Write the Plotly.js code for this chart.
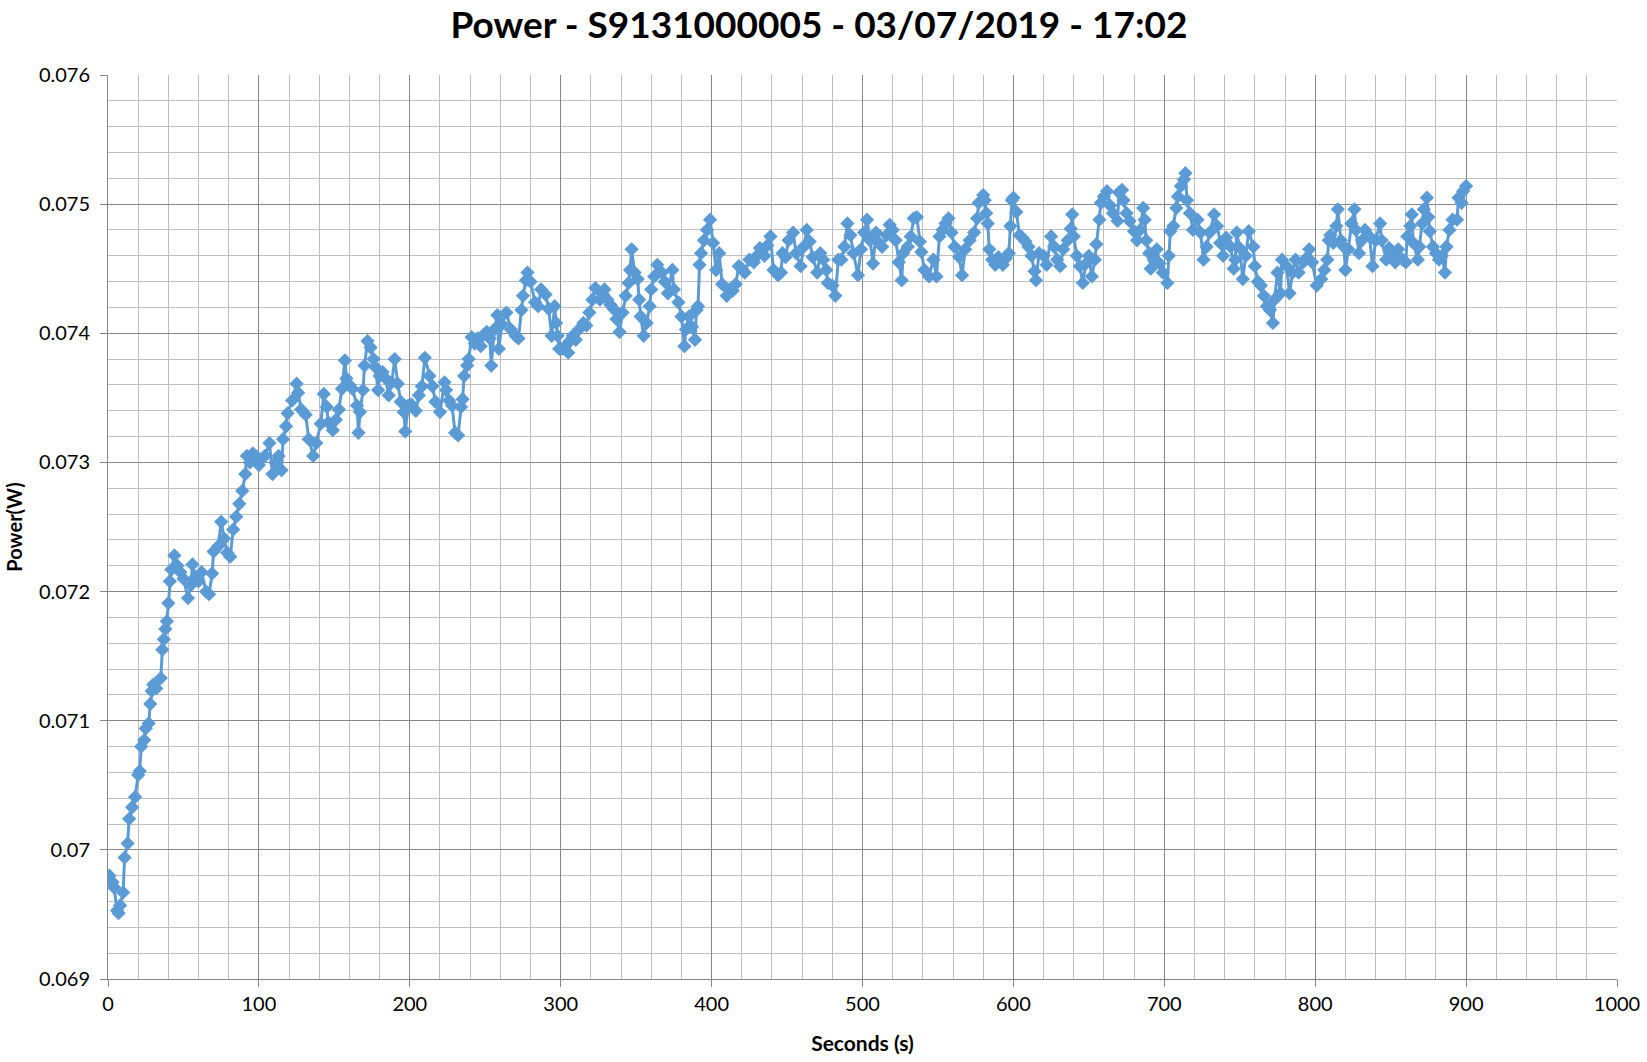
<!DOCTYPE html>
<html>
<head>
<meta charset="utf-8">
<script src="https://cdn.plot.ly/plotly-3.0.1.min.js"></script>
<style>html,body{margin:0;padding:0;background:#fff;}#chart{width:1647px;height:1062px;}</style>
</head>
<body>
<div id="chart"></div>
<script>
// [seconds, power (W)]
const run0to145 = [[1,0.06980],[3,0.06975],[4,0.06971],[6,0.06953],[7,0.06951],[8,0.06957],[10,0.06967],[11,0.06994],[13,0.07005],[14,0.07024],[16,0.07033],[18,0.07041],[20,0.07058],[21,0.07061],[22,0.07080],[24,0.07085],[25,0.07094],[27,0.07098],[28,0.07113],[29,0.07123],[30,0.07128],[32,0.07125],[35,0.07133],[36,0.07155],[37,0.07163],[38,0.07171],[39,0.07177],[40,0.07191],[41,0.07208],[42,0.07217],[44,0.07228],[46,0.07220],[48,0.07215],[50,0.07210],[53,0.07195],[55,0.07205],[56,0.07221],[58,0.07211],[60,0.07208],[62,0.07215],[65,0.07200],[67,0.07198],[69,0.07214],[70,0.07231],[73,0.07235],[75,0.07254],[77,0.07241],[79,0.07230],[81,0.07227],[83,0.07248],[85,0.07258],[87,0.07268],[89,0.07278],[91,0.07291],[92,0.07305],[94,0.07300],[96,0.07307],[98,0.07305],[100,0.07298],[102,0.07303],[104,0.07305],[107,0.07315],[109,0.07291],[111,0.07300],[113,0.07305],[115,0.07294],[116,0.07318],[118,0.07328],[119,0.07338],[122,0.07348],[125,0.07361],[126,0.07354],[128,0.07341],[131,0.07337],[133,0.07318],[136,0.07305],[138,0.07315],[141,0.07330],[143,0.07353],[145,0.07343]];
const run146to299 = [[146,0.07331],[149,0.07325],[151,0.07333],[153,0.07341],[155,0.07357],[157,0.07379],[158,0.07365],[160,0.07360],[162,0.07357],[165,0.07344],[166,0.07323],[167,0.07339],[169,0.07356],[170,0.07375],[172,0.07394],[174,0.07389],[176,0.07380],[177,0.07374],[179,0.07356],[180,0.07367],[182,0.07370],[184,0.07365],[186,0.07352],[188,0.07362],[190,0.07380],[192,0.07361],[194,0.07347],[196,0.07339],[197,0.07324],[199,0.07344],[201,0.07345],[204,0.07340],[206,0.07352],[208,0.07359],[210,0.07381],[213,0.07367],[215,0.07359],[217,0.07347],[220,0.07339],[223,0.07362],[224,0.07356],[226,0.07348],[228,0.07344],[230,0.07323],[232,0.07321],[234,0.07343],[235,0.07349],[236,0.07367],[238,0.07375],[239,0.07380],[241,0.07397],[243,0.07392],[245,0.07396],[247,0.07390],[249,0.07399],[251,0.07401],[253,0.07396],[254,0.07375],[256,0.07403],[258,0.07414],[259,0.07388],[261,0.07407],[264,0.07416],[267,0.07403],[270,0.07398],[272,0.07396],[274,0.07418],[275,0.07429],[277,0.07441],[278,0.07447],[280,0.07440],[283,0.07424],[285,0.07421],[287,0.07434],[290,0.07430],[292,0.07419],[294,0.07398],[296,0.07421],[297,0.07408],[298,0.07398],[299,0.07388]];
const run300to444 = [[301,0.07388],[303,0.07390],[305,0.07385],[306,0.07394],[308,0.07398],[310,0.07395],[312,0.07403],[315,0.07408],[317,0.07406],[319,0.07416],[321,0.07426],[323,0.07435],[326,0.07426],[328,0.07430],[329,0.07434],[331,0.07426],[333,0.07422],[335,0.07419],[337,0.07411],[339,0.07401],[341,0.07416],[343,0.07429],[345,0.07439],[346,0.07449],[347,0.07465],[349,0.07447],[351,0.07442],[352,0.07426],[353,0.07413],[355,0.07398],[357,0.07408],[359,0.07421],[360,0.07434],[362,0.07444],[364,0.07453],[367,0.07447],[369,0.07440],[371,0.07431],[374,0.07449],[375,0.07434],[378,0.07424],[380,0.07413],[382,0.07390],[383,0.07403],[385,0.07413],[387,0.07405],[389,0.07395],[390,0.07418],[391,0.07421],[392,0.07453],[393,0.07462],[395,0.07472],[397,0.07480],[399,0.07488],[401,0.07470],[403,0.07449],[405,0.07462],[407,0.07438],[410,0.07429],[412,0.07434],[414,0.07433],[416,0.07438],[418,0.07452],[420,0.07450],[422,0.07447],[425,0.07457],[428,0.07455],[430,0.07460],[432,0.07466],[435,0.07460],[437,0.07468],[439,0.07475],[441,0.07449],[444,0.07445]];
const run446to599 = [[446,0.07447],[447,0.07462],[449,0.07459],[451,0.07472],[454,0.07478],[456,0.07462],[459,0.07452],[461,0.07467],[463,0.07480],[465,0.07471],[467,0.07459],[470,0.07447],[472,0.07462],[474,0.07457],[476,0.07449],[477,0.07439],[480,0.07437],[482,0.07429],[484,0.07457],[486,0.07457],[488,0.07467],[490,0.07485],[492,0.07476],[494,0.07462],[497,0.07445],[499,0.07465],[501,0.07478],[503,0.07488],[505,0.07472],[507,0.07454],[509,0.07478],[511,0.07470],[513,0.07467],[516,0.07476],[518,0.07484],[520,0.07480],[522,0.07472],[524,0.07455],[526,0.07441],[527,0.07462],[530,0.07467],[532,0.07475],[534,0.07489],[536,0.07490],[538,0.07471],[539,0.07463],[541,0.07449],[544,0.07444],[547,0.07457],[549,0.07444],[551,0.07475],[553,0.07480],[555,0.07485],[557,0.07489],[559,0.07478],[561,0.07467],[564,0.07459],[566,0.07445],[568,0.07465],[571,0.07472],[574,0.07478],[576,0.07489],[577,0.07501],[580,0.07507],[581,0.07503],[582,0.07493],[583,0.07485],[584,0.07465],[586,0.07457],[588,0.07453],[590,0.07459],[593,0.07453],[595,0.07458],[597,0.07462],[598,0.07483],[599,0.07503]];
const run600to744 = [[600,0.07505],[602,0.07494],[604,0.07476],[606,0.07474],[608,0.07471],[610,0.07467],[612,0.07460],[614,0.07448],[615,0.07441],[617,0.07462],[620,0.07460],[622,0.07453],[625,0.07475],[627,0.07467],[629,0.07457],[631,0.07452],[633,0.07465],[636,0.07472],[638,0.07481],[639,0.07492],[640,0.07475],[642,0.07460],[644,0.07452],[646,0.07439],[648,0.07454],[650,0.07460],[652,0.07444],[654,0.07457],[655,0.07469],[657,0.07488],[658,0.07501],[660,0.07506],[662,0.07510],[664,0.07499],[666,0.07493],[669,0.07487],[670,0.07509],[672,0.07511],[673,0.07503],[675,0.07493],[677,0.07487],[680,0.07479],[682,0.07472],[684,0.07480],[686,0.07497],[687,0.07488],[688,0.07472],[690,0.07462],[691,0.07450],[693,0.07457],[695,0.07465],[697,0.07454],[699,0.07447],[702,0.07439],[703,0.07460],[704,0.07479],[706,0.07483],[708,0.07497],[709,0.07506],[711,0.07514],[713,0.07519],[714,0.07524],[715,0.07503],[717,0.07493],[719,0.07480],[722,0.07488],[724,0.07478],[726,0.07457],[728,0.07467],[730,0.07478],[733,0.07492],[735,0.07483],[737,0.07470],[739,0.07460],[741,0.07474],[744,0.07467]];
const run746to900 = [[746,0.07450],[747,0.07457],[748,0.07478],[750,0.07466],[752,0.07442],[754,0.07460],[756,0.07479],[759,0.07467],[760,0.07452],[762,0.07440],[764,0.07437],[766,0.07429],[768,0.07421],[770,0.07418],[772,0.07408],[773,0.07426],[775,0.07447],[777,0.07431],[778,0.07457],[781,0.07452],[783,0.07431],[785,0.07447],[787,0.07457],[789,0.07447],[792,0.07455],[794,0.07458],[796,0.07465],[798,0.07455],[801,0.07437],[804,0.07442],[806,0.07449],[808,0.07457],[809,0.07472],[810,0.07476],[812,0.07470],[814,0.07483],[815,0.07496],[817,0.07472],[819,0.07467],[820,0.07449],[822,0.07465],[824,0.07485],[826,0.07496],[827,0.07480],[829,0.07462],[831,0.07472],[833,0.07480],[836,0.07475],[838,0.07452],[840,0.07472],[843,0.07485],[844,0.07472],[847,0.07457],[849,0.07466],[851,0.07460],[853,0.07455],[855,0.07465],[858,0.07457],[860,0.07455],[861,0.07475],[863,0.07483],[864,0.07492],[865,0.07470],[868,0.07457],[869,0.07467],[871,0.07485],[872,0.07496],[874,0.07505],[875,0.07490],[876,0.07479],[878,0.07467],[880,0.07462],[882,0.07457],[884,0.07460],[886,0.07447],[887,0.07467],[889,0.07480],[891,0.07488],[894,0.07488],[895,0.07505],[897,0.07501],[898,0.07510],[900,0.07514]];

const yTickVals = [0.069, 0.070, 0.071, 0.072, 0.073, 0.074, 0.075, 0.076];
const yTickText = ['0.069', '0.07', '0.071', '0.072', '0.073', '0.074', '0.075', '0.076'];
const xTickVals = [0, 100, 200, 300, 400, 500, 600, 700, 800, 900, 1000];

const allRuns = [].concat(run0to145, run146to299, run300to444, run446to599, run600to744, run746to900);
const seconds = allRuns.map(p => p[0]);
const power = allRuns.map(p => p[1]);

const blue = '#5B9BD5';
const majorGrid = '#878787';
const minorGrid = '#BEBEBE';
const font = 'Lato, "Open Sans", "DejaVu Sans", sans-serif';

const trace = {
  x: seconds, y: power, type: 'scatter', mode: 'lines+markers',
  line: {color: blue, width: 3},
  marker: {symbol: 'diamond', size: 11, color: blue},
  hoverinfo: 'x+y', showlegend: false
};

const layout = {
  width: 1647, height: 1062,
  margin: {l: 108, r: 30, t: 75, b: 83},
  paper_bgcolor: '#fff', plot_bgcolor: '#fff',
  title: {text: '<b>Power - S9131000005 - 03/07/2019 - 17:02</b>', font: {family: font, size: 37, color: '#000'},
          x: 819/1647, xref: 'container', xanchor: 'center', y: 1 - 25/1062, yref: 'container', yanchor: 'middle'},
  xaxis: {
    range: [0, 1000], tickvals: xTickVals, ticktext: xTickVals.map(String),
    showgrid: true, gridcolor: majorGrid, gridwidth: 1,
    minor: {dtick: 20, tick0: 0, showgrid: true, gridcolor: minorGrid, gridwidth: 1, ticks: ''},
    ticks: 'outside', ticklen: 7, tickcolor: majorGrid, tickwidth: 1,
    showline: true, linecolor: majorGrid, linewidth: 1, zeroline: false, mirror: false,
    tickfont: {family: font, size: 20, color: '#000'},
    title: {text: '<b>Seconds (s)</b>', font: {family: font, size: 21, color: '#000'}, standoff: 22}
  },
  yaxis: {
    range: [0.069, 0.076], tickvals: yTickVals, ticktext: yTickText,
    showgrid: true, gridcolor: majorGrid, gridwidth: 1,
    minor: {dtick: 0.0002, tick0: 0.069, showgrid: true, gridcolor: minorGrid, gridwidth: 1, ticks: ''},
    ticks: 'outside', ticklen: 7, tickcolor: majorGrid, tickwidth: 1,
    showline: true, linecolor: majorGrid, linewidth: 1, zeroline: false,
    tickfont: {family: font, size: 20, color: '#000'},
    ticklabelstandoff: 6,
    title: {text: '<b>Power(W)</b>', font: {family: font, size: 20, color: '#000'}, standoff: 10}
  }
};

Plotly.newPlot('chart', [trace], layout, {displayModeBar: false, staticPlot: true});
</script>
</body>
</html>
